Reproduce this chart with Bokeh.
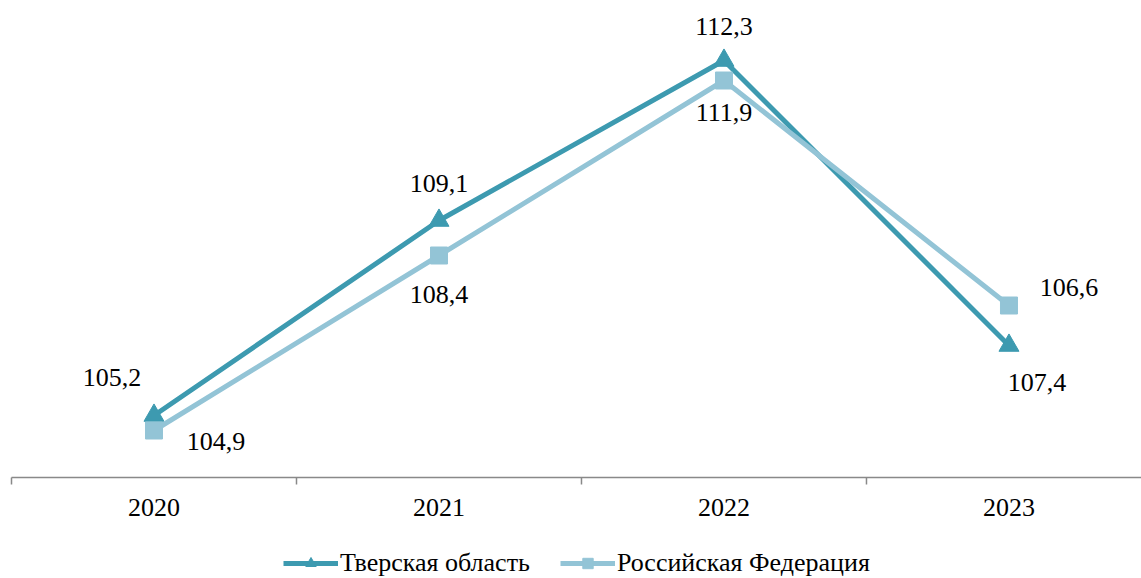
from bokeh.plotting import figure
from bokeh.models import ColumnDataSource, Legend, LegendItem
from bokeh.core.properties import value
from bokeh.embed import file_html
from bokeh.resources import INLINE

years = ["2020", "2021", "2022", "2023"]
tver_name = "Тверская область"
rf_name = "Российская Федерация"
tver_values = [105.2, 109.1, 112.3, 106.6]
rf_values = [104.9, 108.4, 111.9, 107.4]
tver_labels = ["105,2", "109,1", "112,3", "107,4"]
rf_labels = ["104,9", "108,4", "111,9", "106,6"]

# label offsets (style)
tver_dx = [-42, 0, 0, 28]
tver_dy = [-38, -37, -34, 37]
rf_dx = [62, 0, 0, 60]
rf_dy = [11, 39, 32, -18]

TVER_COLOR = "#3D9AB0"
RF_COLOR = "#93C4D6"
AXIS_COLOR = "#898989"
FONT = "Liberation Serif"

W, H = 1141, 578
X0, X1 = -0.5386, 3.465
Y0, Y1 = 101.94, 113.5
AXIS_Y = 103.96            # value where the category axis is drawn
TICK_LEN = 7 * (Y1 - Y0) / H  # 7 px in data units

xs = list(range(len(years)))
bounds = [i - 0.5 for i in xs]

p = figure(width=W, height=H, x_range=(X0, X1), y_range=(Y0, Y1),
           output_backend="svg", toolbar_location=None,
           min_border=0, min_border_left=0, min_border_right=0,
           min_border_top=0, min_border_bottom=0,
           background_fill_color="white", border_fill_color="white")
p.outline_line_color = None
p.xgrid.visible = False
p.ygrid.visible = False
p.xaxis.visible = False
p.yaxis.visible = False

# category axis: line, boundary ticks, year labels
p.segment(x0=[bounds[0]], y0=[AXIS_Y], x1=[X1], y1=[AXIS_Y],
          line_color=AXIS_COLOR, line_width=1.5)
p.segment(x0=bounds, y0=[AXIS_Y] * len(bounds), x1=bounds,
          y1=[AXIS_Y - TICK_LEN] * len(bounds),
          line_color=AXIS_COLOR, line_width=1.5)
p.text(x=xs, y=[AXIS_Y] * len(xs), text=years, y_offset=30,
       text_font=value(FONT), text_font_size="26px", text_color="black",
       text_align="center", text_baseline="middle")

src_t = ColumnDataSource(dict(x=xs, y=tver_values, t=tver_labels, dx=tver_dx, dy=tver_dy))
src_r = ColumnDataSource(dict(x=xs, y=rf_values, t=rf_labels, dx=rf_dx, dy=rf_dy))

lt = p.line("x", "y", source=src_t, line_color=TVER_COLOR, line_width=5)
mt = p.scatter("x", "y", source=src_t, marker="triangle", size=20,
               fill_color=TVER_COLOR, line_color=TVER_COLOR)
lr = p.line("x", "y", source=src_r, line_color=RF_COLOR, line_width=5)
mr = p.scatter("x", "y", source=src_r, marker="square", size=17,
               fill_color=RF_COLOR, line_color=RF_COLOR)

for src in (src_t, src_r):
    p.text("x", "y", text="t", source=src, x_offset="dx", y_offset="dy",
           text_font=value(FONT), text_font_size="26px", text_color="black",
           text_align="center", text_baseline="middle")

legend = Legend(items=[LegendItem(label=tver_name, renderers=[lt, mt]),
                       LegendItem(label=rf_name, renderers=[lr, mr])],
                orientation="horizontal", location=(283, 0))
legend.label_text_font = "'Liberation Serif'"
legend.label_text_font_size = "26px"
legend.label_text_color = "black"
legend.glyph_width = 55
legend.glyph_height = 26
legend.label_standoff = 2
legend.spacing = 30
legend.border_line_color = None
legend.background_fill_alpha = 0
legend.margin = 0
legend.padding = 0
p.add_layout(legend, "center")

open("out.html", "w").write(file_html(p, INLINE))
